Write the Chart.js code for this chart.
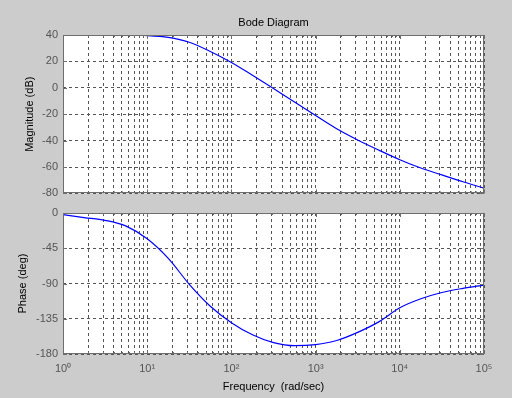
<!DOCTYPE html>
<html>
<head>
<meta charset="utf-8">
<script src="https://cdn.jsdelivr.net/npm/chart.js"></script>
<style>
  body { margin: 0; background: #cccccc; }
  .plot { position: absolute; left: 0; width: 512px; }
  #top { top: 0; height: 205px; }
  #bottom { top: 198px; height: 200px; }
</style>
</head>
<body>
<div class="plot" id="top"><canvas id="magChart"></canvas></div>
<div class="plot" id="bottom"><canvas id="phaseChart"></canvas></div>
<script>
// frequencies (rad/sec), quarter decade apart
var freq = [1, 1.78, 3.16, 5.62, 10, 17.8, 31.6, 56.2, 100, 178, 316, 562, 1000,
  1780, 3160, 5620, 10000, 17800, 31600, 56200, 100000];
// magnitude (dB)
var magnitude = [40, 40, 40, 39.9, 39.6, 38.2, 34.5, 27.5, 19.2, 9.5, -0.5, -10.8, -21,
  -31, -39.5, -47.2, -54.5, -60.8, -66, -71.2, -76];
// phase (deg)
var phase = [-2, -5.8, -9.4, -16.8, -33, -58, -91, -119, -140, -155.5, -165.5, -169.4, -168,
  -162.8, -152.4, -139, -121, -109.5, -101.5, -96.2, -92];

// grid lines on the frequency axis (MATLAB style: 1..9 per decade)
var freqTicks = [1, 2, 3, 4, 5, 6, 7, 8, 9, 10, 20, 30, 40, 50, 60, 70, 80, 90,
  100, 200, 300, 400, 500, 600, 700, 800, 900, 1000, 2000, 3000, 4000, 5000, 6000, 7000, 8000, 9000,
  10000, 20000, 30000, 40000, 50000, 60000, 70000, 80000, 90000, 100000];
var decadeLabels = ["10\u2070", "10\u00b9", "10\u00b2", "10\u00b3", "10\u2074", "10\u2075"];
var magTicks = [40, 20, 0, -20, -40, -60, -80];
var phaseTicks = [0, -45, -90, -135, -180];

var font = { family: "'Liberation Sans', Arial, sans-serif", size: 11 };
var gridColor = "#555555";

function points(ys) {
  var pts = [];
  for (var i = 0; i < freq.length; i++) {
    pts.push({ x: freq[i], y: ys[i] });
  }
  return pts;
}

// white plot area + matlab-like box with inward ticks
var boxPlugin = {
  id: "box",
  beforeDraw: function (chart) {
    var a = chart.chartArea;
    chart.ctx.save();
    chart.ctx.fillStyle = "#ffffff";
    chart.ctx.fillRect(a.left, a.top, a.right - a.left, a.bottom - a.top);
    chart.ctx.restore();
  },
  afterDraw: function (chart) {
    var a = chart.chartArea, ctx = chart.ctx;
    var xs = chart.scales.x, ys = chart.scales.y;
    ctx.save();
    ctx.strokeStyle = "#6e6e6e";
    ctx.lineWidth = 1;
    ctx.beginPath();
    xs.ticks.forEach(function (t) {
      var px = Math.round(xs.getPixelForValue(t.value)) + 0.5;
      var len = Number.isInteger(Math.log10(t.value)) ? 4 : 2;
      ctx.moveTo(px, a.bottom); ctx.lineTo(px, a.bottom - len);
      ctx.moveTo(px, a.top); ctx.lineTo(px, a.top + len);
    });
    ys.ticks.forEach(function (t) {
      var py = Math.round(ys.getPixelForValue(t.value)) + 0.5;
      ctx.moveTo(a.left, py); ctx.lineTo(a.left + 4, py);
      ctx.moveTo(a.right, py); ctx.lineTo(a.right - 4, py);
    });
    ctx.stroke();
    ctx.strokeRect(Math.round(a.left) + 0.5, Math.round(a.top) + 0.5,
      Math.round(a.right - a.left) - 1, Math.round(a.bottom - a.top) - 1);
    ctx.restore();
  }
};

function xAxis(showLabels, height) {
  return {
    type: "logarithmic",
    min: 1,
    max: 100000,
    afterBuildTicks: function (scale) {
      scale.ticks = freqTicks.map(function (v) { return { value: v }; });
    },
    afterFit: function (scale) { scale.height = height; },
    grid: { color: gridColor, drawTicks: false, lineWidth: 1 },
    border: { display: false, dash: [3, 3] },
    ticks: {
      display: showLabels,
      autoSkip: false,
      maxRotation: 0,
      padding: 8,
      color: "#555555",
      font: font,
      callback: function (value) {
        var e = Math.log10(value);
        return Number.isInteger(e) ? decadeLabels[e] : "";
      }
    },
    title: {
      display: showLabels,
      text: "Frequency  (rad/sec)",
      color: "#000000",
      font: font,
      padding: { top: 0, bottom: 4 }
    }
  };
}

function yAxis(tickValues, label, titlePad) {
  return {
    min: tickValues[tickValues.length - 1],
    max: tickValues[0],
    afterBuildTicks: function (scale) {
      scale.ticks = tickValues.map(function (v) { return { value: v }; });
    },
    afterFit: function (scale) { scale.width = 63; },
    grid: { color: gridColor, drawTicks: false, lineWidth: 1 },
    border: { display: false, dash: [3, 3] },
    ticks: { padding: 5, color: "#555555", font: font },
    title: {
      display: true,
      text: label,
      color: "#000000",
      font: font,
      padding: { top: titlePad, bottom: 0 }
    }
  };
}

function lineData(ys) {
  return {
    datasets: [{
      data: points(ys),
      borderColor: "#0000ff",
      borderWidth: 1.2,
      pointRadius: 0,
      cubicInterpolationMode: "monotone",
      fill: false
    }]
  };
}

new Chart(document.getElementById("magChart"), {
  type: "line",
  data: lineData(magnitude),
  options: {
    responsive: true,
    maintainAspectRatio: false,
    animation: false,
    layout: { padding: { left: 0, right: 28, top: 0, bottom: 0 } },
    plugins: {
      legend: { display: false },
      tooltip: { enabled: false }
    },
    scales: {
      x: xAxis(false, 7),
      // empty top axis, only used to centre the title over the plot box
      titleAxis: {
        type: "linear",
        position: "top",
        afterFit: function (scale) { scale.height = 35; },
        grid: { display: false },
        border: { display: false },
        ticks: { display: false },
        title: {
          display: true,
          text: "Bode Diagram",
          color: "#000000",
          font: font,
          padding: { top: 15.9, bottom: 0 }
        }
      },
      y: yAxis(magTicks, "Magnitude (dB)", 23.4)
    }
  },
  plugins: [boxPlugin]
});

new Chart(document.getElementById("phaseChart"), {
  type: "line",
  data: lineData(phase),
  options: {
    responsive: true,
    maintainAspectRatio: false,
    animation: false,
    layout: { padding: { left: 0, right: 28, top: 15, bottom: 0 } },
    plugins: {
      legend: { display: false },
      tooltip: { enabled: false }
    },
    scales: {
      x: xAxis(true, 44),
      y: yAxis(phaseTicks, "Phase (deg)", 16.4)
    }
  },
  plugins: [boxPlugin]
});
</script>
</body>
</html>
